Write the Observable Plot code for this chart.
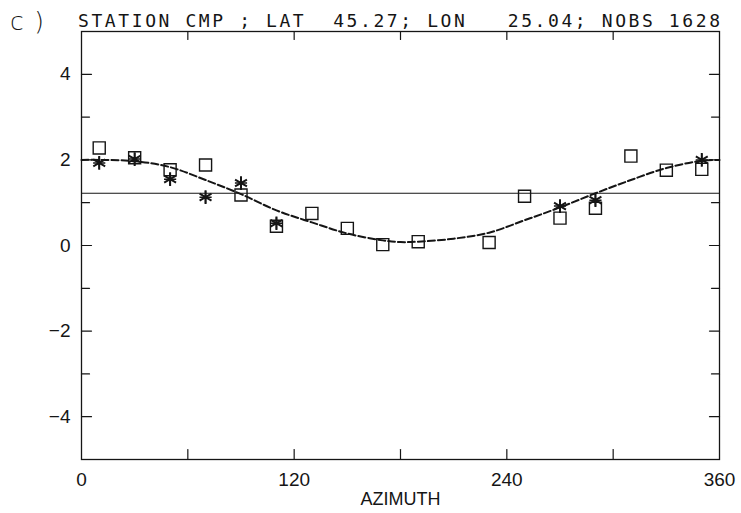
<!DOCTYPE html>
<html><head><meta charset="utf-8">
<script src="https://cdn.jsdelivr.net/npm/d3@7"></script>
<script src="https://cdn.jsdelivr.net/npm/@observablehq/plot@0.6"></script>
<style>body{margin:0;background:#fff}</style>
</head><body><div id="chart"></div>
<script>
// Data
const squareAz  = [10, 30, 50, 70, 90, 110, 130, 150, 170, 190, 230, 250, 270, 290, 310, 330, 350];
const squareVal = [2.28, 2.05, 1.77, 1.88, 1.18, 0.45, 0.75, 0.40, 0.02, 0.09, 0.07, 1.15, 0.64, 0.87, 2.09, 1.76, 1.78];
const starAz  = [10, 30, 50, 70, 90, 110, 270, 290, 350];
const starVal = [1.93, 2.02, 1.55, 1.13, 1.46, 0.52, 0.92, 1.06, 2.00];
const curveAz  = [0, 10, 30, 50, 70, 90, 110, 130, 150, 170, 180, 190, 210, 230, 250, 270, 290, 310, 330, 350, 360];
const curveVal = [2.00, 2.00, 1.97, 1.83, 1.53, 1.20, 0.82, 0.54, 0.28, 0.12, 0.08, 0.09, 0.16, 0.30, 0.59, 0.89, 1.22, 1.53, 1.81, 1.98, 2.00];
const meanLine = [1.22];
const xLabelTicks = [0, 120, 240, 360];
const xTickMarks = [60, 120, 180, 240, 300];
const yLabelTicks = [-4, -2, 0, 2, 4];
const yTickMarks = [-4, -3, -2, -1, 0, 1, 2, 3, 4];
const titleLabel = "c)";
const titleText = "STATION CMP ; LAT  45.27; LON   25.04; NOBS 1628";
const xAxisLabel = "AZIMUTH";

const squares = squareAz.map((a, i) => ({az: a, v: squareVal[i]}));
const stars = starAz.map((a, i) => ({az: a, v: starVal[i]}));
const curve = curveAz.map((a, i) => ({az: a, v: curveVal[i]}));
const ink = "#151515";
const tickShape = {draw(context, l) { context.moveTo(0, 0); context.lineTo(0, -l); }};

const plot = Plot.plot({
  width: 741, height: 513,
  marginLeft: 81, marginRight: 22, marginTop: 31, marginBottom: 54,
  style: {fontFamily: "Liberation Sans, Arial, sans-serif", fontSize: "19px", color: ink, background: "#fff"},
  x: {domain: [0, 360]},
  y: {domain: [-5, 5]},
  marks: [
    Plot.axisX({ticks: xLabelTicks, tickSize: 0, tickPadding: 13, label: null}),
    Plot.axisY({ticks: yLabelTicks, tickSize: 0, tickPadding: 11, label: null, tickFormat: d => (d < 0 ? "\u2212" + Math.abs(d) : String(d))}),
    Plot.vector(yTickMarks.filter(d => d % 2 === 0), {y: d => d, frameAnchor: "left", rotate: 90, anchor: "start", length: 10, shape: tickShape, stroke: ink, strokeWidth: 1.2}),
    Plot.vector(yTickMarks.filter(d => d % 2 !== 0), {y: d => d, frameAnchor: "left", rotate: 90, anchor: "start", length: 8, shape: tickShape, stroke: ink, strokeWidth: 1.2}),
    Plot.vector(yTickMarks.filter(d => d % 2 === 0), {y: d => d, frameAnchor: "right", rotate: -90, anchor: "start", length: 10, shape: tickShape, stroke: ink, strokeWidth: 1.2}),
    Plot.vector(yTickMarks.filter(d => d % 2 !== 0), {y: d => d, frameAnchor: "right", rotate: -90, anchor: "start", length: 8, shape: tickShape, stroke: ink, strokeWidth: 1.2}),
    Plot.vector(xTickMarks, {x: d => d, frameAnchor: "bottom", rotate: 0, anchor: "start", length: 10, shape: tickShape, stroke: ink, strokeWidth: 1.2}),
    Plot.vector(xTickMarks, {x: d => d, frameAnchor: "top", rotate: 180, anchor: "start", length: 8, shape: tickShape, stroke: ink, strokeWidth: 1.2}),
    Plot.frame({stroke: ink, strokeWidth: 1.3}),
    Plot.ruleY(meanLine, {stroke: ink, strokeWidth: 1.1}),
    Plot.line(curve, {x: "az", y: "v", curve: "catmull-rom", stroke: ink, strokeWidth: 2, strokeDasharray: "7,3"}),
    Plot.dot(squares, {x: "az", y: "v", symbol: "square", r: 6.8, stroke: ink, strokeWidth: 1.4, fill: "none"}),
    Plot.dot(stars, {x: "az", y: "v", symbol: "asterisk", r: 6.5, stroke: ink, strokeWidth: 2}),
    Plot.dot(stars, {x: "az", y: "v", symbol: "plus", r: 4, stroke: ink, strokeWidth: 1.5}),
    Plot.text([xAxisLabel], {frameAnchor: "bottom", dy: 45, fontSize: 18, fill: ink})
  ]
});

const svg = d3.select(plot);
svg.append("text")
  .attr("x", 10).attr("y", 30)
  .attr("text-anchor", "start")
  .attr("font-family", "DejaVu Sans, sans-serif").attr("font-size", 25).attr("font-weight", 300).attr("fill", ink)
  .attr("textLength", 34).attr("lengthAdjust", "spacing")
  .text(titleLabel);
svg.append("text")
  .attr("x", 78).attr("y", 27)
  .attr("text-anchor", "start")
  .attr("font-family", "DejaVu Sans Mono, monospace").attr("font-size", 18).attr("fill", ink)
  .attr("textLength", 642).attr("lengthAdjust", "spacing")
  .attr("xml:space", "preserve")
  .style("white-space", "pre")
  .text(titleText);
document.getElementById("chart").appendChild(plot);
</script>
</body></html>
